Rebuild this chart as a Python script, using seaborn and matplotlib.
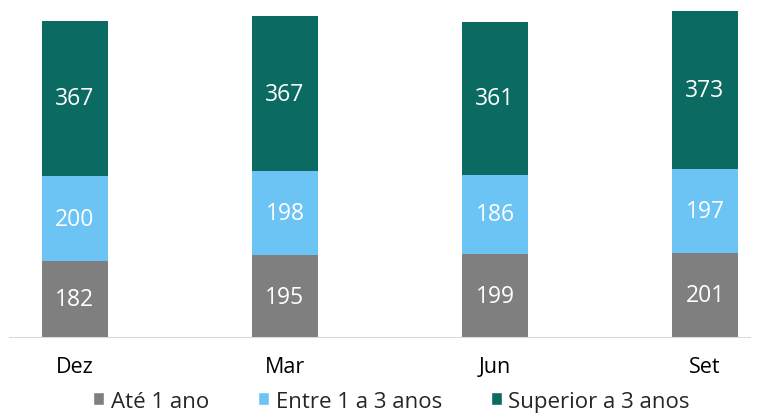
import pandas as pd
import matplotlib.pyplot as plt
import seaborn as sns
from matplotlib.patches import Patch


# Data

periods = ["Dez", "Mar", "Jun", "Set"]

ate_1_ano = [182, 195, 199, 201]
entre_1_3 = [200, 198, 186, 197]
superior_3 = [367, 367, 361, 373]

series_names = ["Até 1 ano", "Entre 1 a 3 anos", "Superior a 3 anos"]
colors = ["#7f7f7f", "#6cc4f4", "#0b6b63"]


df = pd.DataFrame({
    "Periodo": periods,
    "Ate": ate_1_ano,
    "Entre": entre_1_3,
    "Superior": superior_3
})

df["Base2"] = df["Ate"]
df["Base3"] = df["Ate"] + df["Entre"]


sns.set_style("white")
plt.rcParams["font.family"] = ["Open Sans", "DejaVu Sans"]

fig = plt.figure(figsize=(7.6, 4.14), dpi=100)
ax = fig.add_axes([9 / 760, 75 / 414, 742 / 760, 339 / 414])

bar_width = 0.314

# Stacked bars, one layer at a time
for col, base, color in [
    ("Ate", None, colors[0]),
    ("Entre", "Base2", colors[1]),
    ("Superior", "Base3", colors[2])
]:

    kwargs = {}
    if base is not None:
        kwargs["bottom"] = df[base]

    sns.barplot(
        data=df,
        x="Periodo",
        y=col,
        color=color,
        width=bar_width,
        saturation=1,
        linewidth=0,
        ax=ax,
        **kwargs
    )

# Value labels centred in each segment
for i, row in df.iterrows():

    for value, base in [
        (row["Ate"], 0),
        (row["Entre"], row["Base2"]),
        (row["Superior"], row["Base3"])
    ]:

        ax.text(
            i,
            base + value / 2,
            f"{value}",
            ha="center",
            va="center",
            color="white",
            fontsize=16.5,
            fontweight="medium"
        )

ax.set_xlim(-0.314, 3.219)
ax.set_ylim(0, 800)

ax.axhline(0, color="#d9d9d9", linewidth=1.5)

for side in ["top", "right", "left", "bottom"]:
    ax.spines[side].set_visible(False)

ax.set_yticks([])
ax.set_xlabel("")
ax.set_ylabel("")
ax.tick_params(axis="x", length=0, pad=13, labelsize=15.5, labelcolor="black")

handles = [Patch(facecolor=c, label=n) for c, n in zip(colors, series_names)]

fig.legend(
    handles=handles,
    loc="lower center",
    bbox_to_anchor=(0.515, -0.045),
    ncol=3,
    frameon=False,
    fontsize=16,
    handlelength=0.5,
    handleheight=0.5,
    handletextpad=0.3,
    columnspacing=2.2
)

plt.savefig("out.png", dpi=100)
plt.close()
